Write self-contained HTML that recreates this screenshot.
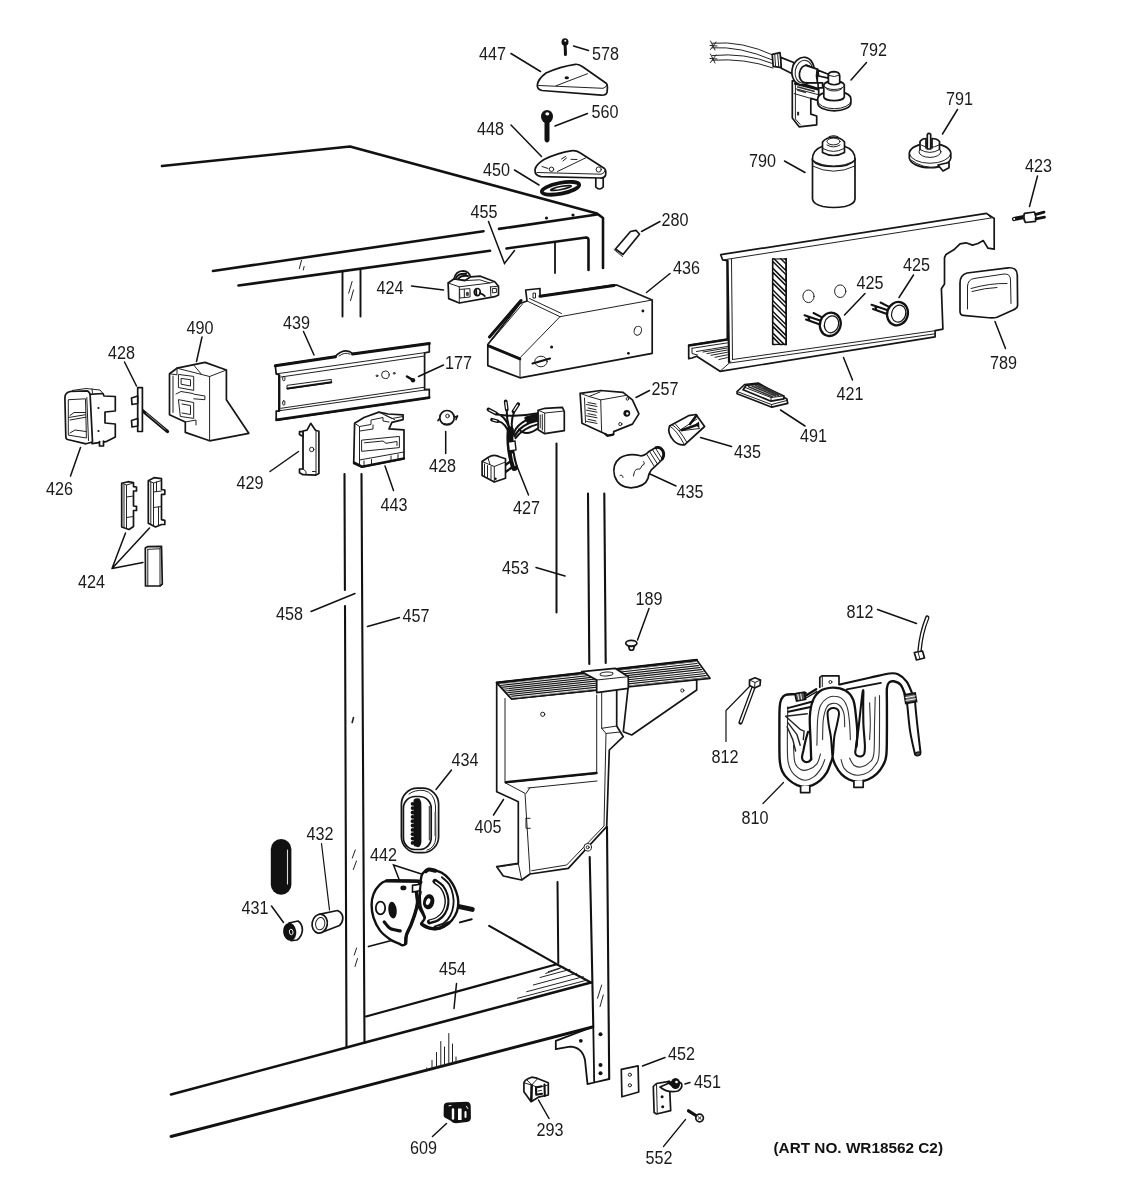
<!DOCTYPE html>
<html>
<head>
<meta charset="utf-8">
<title>Parts diagram WR18562 C2</title>
<style>
html,body{margin:0;padding:0;background:#fff;}
body{width:1125px;height:1200px;overflow:hidden;font-family:"Liberation Sans",sans-serif;}
svg{display:block;filter:grayscale(1);}
.cab{stroke:#111;stroke-width:2.6;fill:none;stroke-linecap:round;stroke-linejoin:round;}
.p{stroke:#151515;stroke-width:1.7;fill:none;stroke-linecap:round;stroke-linejoin:round;}
.pw{stroke:#151515;stroke-width:1.7;fill:#fff;stroke-linecap:round;stroke-linejoin:round;}
.t{stroke:#222;stroke-width:1;fill:none;stroke-linecap:round;stroke-linejoin:round;}
.tw{stroke:#222;stroke-width:1;fill:#fff;stroke-linecap:round;stroke-linejoin:round;}
.ld{stroke:#111;stroke-width:1.5;fill:none;stroke-linecap:round;}
.k{fill:#111;stroke:none;}
.lb text{font-family:"Liberation Sans",sans-serif;font-size:18px;fill:#1a1a1a;text-anchor:middle;}
.art{font-family:"Liberation Sans",sans-serif;font-weight:bold;font-size:14.6px;fill:#111;}
</style>
</head>
<body>
<svg width="1125" height="1200" viewBox="0 0 1125 1200">
<rect x="0" y="0" width="1125" height="1200" fill="#fff"/>

<!-- ===== CABINET ===== -->
<g id="cabinet" class="cab">
<!-- top face -->
<path d="M162 166 L350 146.5 L597 213.5 L603 218 L603 268"/>
<!-- front top edge -->
<path d="M213 271 L483.5 231.2 M499 228.9 L597 214.5"/>
<path d="M238.5 285.5 L490 250.8"/>
<path d="M506.5 248.5 L586 237.5 Q588.5 237.5 588.5 240 L588.5 270"/>
<path d="M555 243 L555 273" stroke-width="1.8"/>
<!-- top-left post stub -->
<path d="M342.5 272 L342.5 316.5 M360.5 270 L360.5 316.5" stroke-width="1.9"/>
<!-- left post 458/457 -->
<path d="M344.5 474 L344.9 590 M345 606 L346.5 1047" stroke-width="2.1"/>
<path d="M361.5 474 L364.5 1043" stroke-width="2.1"/>
<!-- 453 inner line -->
<path d="M556.5 443.5 L556.5 612.5" stroke-width="2"/>
<!-- right post upper -->
<path d="M588 493.5 L589.3 664" stroke-width="2.1"/>
<path d="M604.3 493.5 L605.7 663" stroke-width="2.1"/>
<!-- right post lower -->
<path d="M589.7 857 L590.8 905 L593.3 1027" stroke-width="2.1"/>
<path d="M607 827 L609.2 1079" stroke-width="2.1"/>
<path d="M557.5 882 L558.3 963" stroke-width="2"/>
<!-- bottom rail -->
<path d="M171 1094.5 L346.5 1047.5 L365 1042.5 L591 982.5"/>
<path d="M171 1136.5 L592.5 1027" stroke-width="2.9"/>
<path d="M366 1016.5 L556.7 964.2" stroke-width="2.2"/>
<!-- shelf -->
<path d="M489.2 925.8 L556.7 964.2 L591 982.5" stroke-width="2.1"/>
<path d="M368.5 946.5 L391.5 940.5" stroke-width="1.8"/>
<!-- bracket at bottom of right post -->
<path d="M592.5 1027 L555.8 1040.8 L555.8 1049.2 L570 1046.7 Q582 1047 585 1060 L587.5 1084.2 L594.2 1082.5 L609.2 1079 M593.3 1027 L594.2 1082.5" stroke-width="1.8"/>
</g>
<g class="k">
<circle cx="546.5" cy="218" r="1.6"/><circle cx="573" cy="215" r="1.6"/>
<circle cx="600.5" cy="1034.2" r="2"/><circle cx="600.5" cy="1065" r="2"/><circle cx="600.5" cy="1073.3" r="2"/>
<circle cx="580.8" cy="1040.8" r="1.9"/>
</g>

<!-- ===== PARTS: TOP ===== -->
<g id="p447">
<path class="pw" d="M537.3 85 Q538 79 546 73 Q560 66.5 575.5 64.3 Q579 64 583 67 L606.5 83.5 Q608 85.5 607 92.5 Q606 95.5 601 95.2 L542 90.5 Q537 89.5 537.3 85 Z"/>
<path class="t" d="M538.5 85.5 L603 88.3 Q606 88 607 84.5 M556 85.8 L587.5 73.7"/>
<ellipse class="k" cx="566.8" cy="77.8" rx="2.2" ry="1.5"/>
</g>
<g id="p578"><ellipse class="k" cx="565" cy="42" rx="3.5" ry="3.8"/><path d="M565 43 L565.4 51.5 L565.4 54.5" stroke="#111" stroke-width="3" stroke-linecap="round" fill="none"/><circle cx="565.3" cy="40.8" r="1" fill="#fff"/></g>
<g id="p560"><ellipse class="k" cx="547" cy="116.5" rx="6" ry="6.6"/><path d="M547 119 L547 133 L547 139.5" stroke="#111" stroke-width="5" stroke-linecap="round" fill="none"/><path d="M547 137 L547 141" stroke="#111" stroke-width="3" stroke-linecap="round"/><ellipse cx="547.3" cy="113.8" rx="2" ry="1.6" fill="#fff"/></g>
<g id="p450"><ellipse cx="560.5" cy="188.3" rx="19" ry="5.4" transform="rotate(-11 560.5 188.3)" fill="#fff" stroke="#111" stroke-width="3.8"/><ellipse cx="561" cy="188" rx="10.5" ry="1.5" transform="rotate(-11 561 188)" fill="#fff" stroke="#111" stroke-width="1.7"/></g>
<g id="p448">
<path class="pw" d="M595.8 176 L595.8 187 Q599.5 191 603.2 187 L603.2 176 Z"/>
<path class="pw" d="M535 169.5 Q536 164.5 544 159.5 Q558 152.5 572.5 150.6 Q576.5 150.4 580 152.8 L604.5 168.5 Q606.5 170.5 605.5 175.5 Q604 178.5 600 178 L541 176.7 Q534.5 175.5 535 169.5 Z"/>
<path class="t" d="M537 172.5 L601 174.2 Q604.5 173.5 605.3 170 M557.5 171.5 L586 157.7"/>
<circle class="t" cx="551.5" cy="169.3" r="2.2"/><circle class="t" cx="598.7" cy="169.5" r="2.6"/>
<path class="t" d="M561.5 159 L565.5 156.5 M563 161 L566.5 158 M571 159.3 L577 159.5 M542 166.5 L548 168.5" stroke-width="1.4"/>
</g>
<g id="p280">
<path class="pw" d="M615.5 249 L630.5 231.5 L636 230.3 L639.5 234.2 L623 254.5 Z" stroke-width="1.4"/>
<path class="t" d="M614 249.5 L622.5 256.5" stroke-width="1.6"/>
</g>

<g id="p792">
<path class="t" d="M712.5 43.2 Q742 40.5 774 55.5 M712.5 47.8 Q740 46 772.5 60 M712.5 55.5 Q745 52.5 772.5 63.5 M712.5 60.2 Q745 58 773 68" stroke-width="1.8"/>
<path class="t" d="M710.5 41 L715 50 M710.5 49.5 L716 42 M710 45.5 L717 46 M710.5 54 L715 63 M710.5 62.5 L716 55 M710 58.5 L717 59" stroke-width="1.3"/>
<path class="pw" d="M772.2 54.4 L780.0 52.7 L781.7 67.6 L773.2 66.4 Z" stroke-width="1.8"/>
<path class="t" d="M774.7 54.0 L775.6 66.8 M777.6 53.4 L778.8 67.3" stroke-width="1.4"/>
<path class="pw" d="M780.7 57.4 L793.7 62.5 L792.8 74.0 L781.3 68.3 Z" stroke-width="1.7"/>
<path class="pw" d="M792.3 80.8 L792.3 118.0 L799.1 126.8 L816.7 124.8 L816.7 116.0 L810.8 114.1 L810.8 98.4 L818.7 100.6 L818.7 88.7 L794.2 80.8 Z" stroke-width="2"/>
<path class="t" d="M795.4 84.8 L795.4 119.0 L800.1 124.4 M794.2 93.6 L810.8 98.4 M795.4 88.7 L817.7 94.5" stroke-width="1.4"/>
<path d="M794.2 83.3 L818.2 89.2" stroke="#111" stroke-width="2.6" fill="none"/>
<path d="M797.2 86.7 L814.8 91.4 M797.2 90.1 L806.0 92.6" stroke="#333" stroke-width="1.6" fill="none"/>
<rect x="797.1" y="111.8" width="2" height="3.6" fill="#222"/>
<ellipse class="pw" cx="803.0" cy="71.1" rx="11.0" ry="13.9" transform="rotate(10 803.0 71.1)" stroke-width="2.2" />
<ellipse class="t" cx="803.8" cy="71.8" rx="8.6" ry="11.5" transform="rotate(10 803.8 71.8)" stroke-width="1.2" />
<path class="pw" d="M806.0 65.4 L817.7 69.3 L817.2 82.3 L806.0 82.3 Z" stroke-width="1.6"/>
<ellipse class="pw" cx="806.0" cy="74.0" rx="6.6" ry="8.8" transform="rotate(8 806.0 74.0)" stroke-width="1.9" />
<path class="pw" d="M805.8 65.4 L817.2 69.3 Q815.7 76.0 817.5 82.8 L806.9 82.8" stroke-width="1.7"/>
<path class="pw" d="M817.7 70.1 L828.4 74.2 L828.4 78.1 L818.7 76.0 Z" stroke-width="1.6"/>
<path class="pw" d="M817.9 82.8 L822.6 82.8 L822.6 87.9 L818.3 87.9 Z" stroke-width="1.5"/>
<path class="pw" d="M817.7 103.0 L817.7 98.9 A16.6 7.8 0 0 1 850.9 98.9 L850.9 103.0 A16.6 7.8 0 0 1 817.7 103.0 Z" stroke-width="2"/>
<path class="t" d="M817.7 100.9 A16.6 7.8 0 0 0 850.9 100.9" stroke-width="1.5"/>
<path class="pw" d="M823.8 97.0 L823.8 84.8 A10.3 4.1 0 0 1 844.3 84.8 L844.3 97.0 A10.3 4.1 0 0 1 823.8 97.0 Z" stroke-width="1.8"/>
<path class="t" d="M823.8 85.8 A10.3 4.1 0 0 0 844.3 85.8 M825.3 87.3 A8.8 4.1 0 0 0 842.8 87.3" stroke-width="1.3"/>
<path class="pw" d="M828.4 74.2 Q829.4 71.6 834.3 71.6 Q839.7 71.8 839.7 76.0 L839.7 83.3 Q834.3 86.2 828.4 83.3 Z" stroke-width="1.8"/>
<path class="t" d="M828.9 75.5 Q834.3 77.9 839.5 75.2" stroke-width="1.2"/>
</g>

<g id="p790">
<path class="pw" d="M812.5 158.5 L812.5 199 Q813 204 823 206.5 Q833.5 208.5 845 206.5 Q855 204 855 199 L855 158.5 Z" stroke-width="1.7"/>
<path class="pw" d="M812.5 160 Q812 150 822 146.5 L845 146.5 Q855.5 150 855 160 Q850 166.5 833.5 166.5 Q817 166.5 812.5 160 Z" stroke-width="1.6"/>
<path d="M812.5 166 Q833.5 176.5 855 166" class="t" stroke-width="2.4"/>
<path class="t" d="M812.5 161 Q833.5 171.5 855 161" stroke-width="1.2"/>
<path class="pw" d="M822.5 152.5 L822.5 142 Q826 137.5 833.5 137 Q841 137.5 844.5 142 L844.5 152.5 Q833.5 158.5 822.5 152.5 Z" stroke-width="1.5"/>
<ellipse class="t" cx="833.5" cy="141.5" rx="6.5" ry="3.4" stroke-width="1.3"/>
<path class="t" d="M827 145 Q833.5 149 840 145 M823 148.5 Q833.5 154.5 844 148.5" stroke-width="1.1"/>
<path class="t" d="M829 136.5 Q833.5 134.5 838 136.5" stroke-width="1.3"/>
</g>

<g id="p791">
<path class="pw" d="M909.3 158 L909.3 153 A20.8 10.4 0 0 1 950.8 153 L950.8 158 A20.8 10.4 0 0 1 909.3 158 Z" stroke-width="1.7"/>
<path class="t" d="M909.3 153.6 A20.8 10.4 0 0 0 950.8 153.6" stroke-width="1.3"/>
<path d="M911 160 Q922 168.5 938 167.6" class="t" stroke-width="2.4"/>
<path class="pw" d="M938 165 L943 171 L949 167.8 L949 162.5 Z" stroke-width="1.3"/>
<ellipse class="t" cx="930" cy="151.8" rx="11" ry="5.6" stroke-width="1.3"/>
<path class="pw" d="M920 149.5 L920 141.5 Q922 138.5 926 138.5 L926 148 M932 148 L932 138.5 Q937 138.5 939.5 141.5 L939.5 149.5" stroke-width="1.4"/>
<path class="t" d="M920 149.5 Q930 155.5 939.5 149.5 M921 145 Q930 150 939 145" stroke-width="1.2"/>
<path class="pw" d="M927.3 149 L927.3 134.5 Q929 132.3 930.7 134.5 L930.7 149 Z" stroke-width="1.4"/>
</g>

<g id="p423">
<path d="M1014 219 L1025 216.7" stroke="#111" stroke-width="4.2" stroke-linecap="round" fill="none"/>
<circle cx="1014.2" cy="219" r="1" fill="#fff"/>
<path class="pw" d="M1024.5 213.3 L1034.5 212 Q1036.5 216.5 1035.5 221.3 L1025.5 222.5 Q1023 218 1024.5 213.3 Z" stroke-width="2"/>
<path d="M1024 214 Q1022.5 218 1024.5 222" class="t" stroke-width="2.8"/>
<path d="M1036 214.3 L1044 212.2 M1036 218.8 L1044.5 217.2" stroke="#111" stroke-width="2.8" stroke-linecap="round" fill="none"/>
</g>

<!-- ===== PANEL 421 ===== -->
<g id="p421">
<path class="pw" d="M720.7 254.7 L986.5 213.4 L994.2 218.5 L994.2 249.2 L988 248.2 L983.3 240.6 L978 243.5 L972.5 245.1 L966 242.8 L960 243.8 L953.8 249.8 L946 254.4 L944.5 257.6 L944.5 284 L941.4 288.7 L942.9 329.1 L935.1 330.7 L935.1 336.9 L720 371.3 L696.7 356.2 L692 358 L688.7 358.7 L688.7 345.3 L727.3 339.3 L727.3 260.7 L722.7 260 Z" stroke-width="1.9"/>
<path class="t" d="M692 348.3 L727.3 342.9 M692 348.3 L692 353.5 L697.5 355 M696.5 351.5 L727.3 346.5" stroke-width="1.3"/>
<path class="t" d="M703 352 L727.3 348 M707 353.6 L727.3 350 M711 355.3 L727.3 352.3 M715 357.3 L727.3 354.8 M719 359.5 L727.3 357.6" stroke-width="1.2"/>
<path d="M689 345.5 L727.3 339.5" stroke="#111" stroke-width="2.4" stroke-linecap="round"/>
<path class="t" d="M722.7 260 L991 218 M731.5 259.3 L732.5 359.5 M732.5 359.5 L935.1 330.7 M730 363 L935.1 333.8 M720 371.3 L731 361.5" stroke-width="1.3"/>
<path d="M727.5 260.7 L729 362" stroke="#111" stroke-width="2.2" stroke-linecap="round"/>
<path class="t" d="M986.5 213.4 L991 218" stroke-width="1.2"/>
<!-- hatched column -->
<clipPath id="hc"><rect x="771.7" y="258.2" width="15.3" height="87"/></clipPath>
<g clip-path="url(#hc)"><path d="M772.6 228.9 L786.1 242.4 L786.1 249.2 L772.6 235.7 Z M772.6 239.7 L786.1 253.2 L786.1 260.0 L772.6 246.5 Z M772.6 250.5 L786.1 264.0 L786.1 270.8 L772.6 257.3 Z M772.6 261.3 L786.1 274.8 L786.1 281.6 L772.6 268.1 Z M772.6 272.1 L786.1 285.6 L786.1 292.4 L772.6 278.9 Z M772.6 282.9 L786.1 296.4 L786.1 303.2 L772.6 289.7 Z M772.6 293.7 L786.1 307.2 L786.1 314.0 L772.6 300.5 Z M772.6 304.5 L786.1 318.0 L786.1 324.8 L772.6 311.3 Z M772.6 315.3 L786.1 328.8 L786.1 335.6 L772.6 322.1 Z M772.6 326.1 L786.1 339.6 L786.1 346.4 L772.6 332.9 Z M772.6 336.9 L786.1 350.4 L786.1 357.2 L772.6 343.7 Z" fill="#fff" stroke="#111" stroke-width="1.5" stroke-linejoin="miter"/><path d="M772.5 258 L772.5 345 M786.2 258 L786.2 345" stroke="#111" stroke-width="1.6" fill="none"/><path d="M772 258.9 L787 258.9 M772 344.5 L787 344.5" stroke="#111" stroke-width="1.4"/></g>
<ellipse class="t" cx="808.5" cy="296.3" rx="5.6" ry="6.3" stroke-width="1.3"/>
<ellipse class="t" cx="840.2" cy="291.2" rx="5.6" ry="6.3" stroke-width="1.3"/>
<!-- knobs 425 -->
<g id="k1">
<path d="M804.5 315.3 L823 321.5 M806 319.5 L822 325.3 M813.5 313 L824 318.3 M808 316.5 L809.5 320.5" stroke="#111" stroke-width="2" fill="none" stroke-linecap="round"/>
<ellipse cx="830.3" cy="324.3" rx="10.3" ry="11.8" transform="rotate(18 830.3 324.3)" fill="#fff" stroke="#111" stroke-width="2.3"/>
<ellipse cx="831.5" cy="324.3" rx="7" ry="8.6" transform="rotate(18 831.5 324.3)" fill="#fff" stroke="#111" stroke-width="1.2"/>
</g>
<g id="k2">
<path d="M871.5 304.8 L890 311 M873 309 L889 314.8 M880.5 302.5 L891 307.8 M875 306 L876.5 310" stroke="#111" stroke-width="2" fill="none" stroke-linecap="round"/>
<ellipse cx="897.5" cy="313.6" rx="10.3" ry="11.8" transform="rotate(18 897.5 313.6)" fill="#fff" stroke="#111" stroke-width="2.3"/>
<ellipse cx="898.7" cy="313.6" rx="7" ry="8.6" transform="rotate(18 898.7 313.6)" fill="#fff" stroke="#111" stroke-width="1.2"/>
</g>
</g>

<g id="p789">
<path class="pw" d="M960 283 Q960 275 967 273 L1008 267.8 Q1017 267 1017.3 275 L1017.6 305.5 Q1017 309 1012 310.5 L997 317.3 Q993 318.3 986 317.5 L963 315.3 Q960 315 960 311 Z" stroke-width="2"/>
<path class="t" d="M967.5 286 Q968 279.5 974 278.5 L1004 274 Q1010.5 273.5 1010.5 280 L1011 303.5 M967.5 286 L967.5 309 M971 288.5 Q990 283 1007 283.5 M972 291.5 Q985 288 997 287.5" stroke-width="1.2"/>
</g>

<!-- ===== 436 BOX ===== -->
<g id="p436">
<path class="pw" d="M487.8 344.5 L520 303.5 L527 301 L525.7 290 L540 288.5 L540 296 L613 285.2 L616.7 285 L652.2 300 L652.2 353.3 L520 377.8 L487.8 365.6 Z" stroke-width="2"/>
<path class="t" d="M520 357.8 L520 377.8 M487.8 344.5 L520 357.8 L560 316.7 L652.2 300 M527 301 L560 316.7 M529.5 298.5 L561.5 313.5" stroke-width="1.6"/>
<path d="M540 296.3 L614 285.5" stroke="#111" stroke-width="3" fill="none" stroke-linecap="round"/>
<path d="M489.5 337 L521 300.5" stroke="#111" stroke-width="3" fill="none" stroke-linecap="round"/>
<path class="t" d="M492 340 L522.5 304" stroke-width="1.1"/>
<path d="M488.5 346 L520 359" stroke="#111" stroke-width="2.6" fill="none" stroke-linecap="round"/>
<path class="t" d="M533 293.5 L533 298 L535.5 298 L535.5 293.5 Z" stroke-width="1"/>
<ellipse class="tw" cx="541" cy="361.5" rx="6.2" ry="5.3" stroke-width="1.7"/>
<path d="M532.5 363.5 L550 358.5" stroke="#111" stroke-width="2.2" stroke-linecap="round"/>
<ellipse class="t" cx="637.8" cy="330.7" rx="3.6" ry="4.6" transform="rotate(20 637.8 330.7)" stroke-width="1.3"/>
<circle class="k" cx="551.6" cy="347" r="1.5"/><circle class="k" cx="642.9" cy="311" r="1.4"/><circle class="k" cx="628.4" cy="353.3" r="1.4"/>
</g>

<g id="p424a">
<path class="pw" d="M454.0 279.0 Q455.6 271.2 463.0 270.9 Q469.2 271.2 470.5 277.1 L464.9 280.6 Z" stroke-width="2"/>
<path d="M456.2 277.4 Q458.7 273.1 466.1 273.7 M458.7 278.4 Q461.2 275.3 468.0 275.9" stroke="#111" stroke-width="2" fill="none" stroke-linecap="round"/>
<path class="pw" d="M448.1 283.0 L454.2 278.8 L464.9 280.6 L470.5 276.9 L480.4 276.2 L494.8 281.8 L498.5 286.2 L498.5 294.9 L494.8 296.7 L459.3 303.0 L448.7 298.6 Z" stroke-width="2.1"/>
<path class="t" d="M448.1 283.0 L459.3 286.8 L459.3 303.0 M459.3 286.8 L489.8 283.0 L494.1 281.7 M464.9 280.6 L479.8 279.8 L489.8 283.0" stroke-width="1.6"/>
<path class="t" d="M490.4 286.9 L498.4 286.2 M490.4 286.9 L490.9 296.1" stroke-width="1.6"/>
<path class="t" d="M492.6 288.6 L496.3 288.3 L496.5 292.4 L492.8 292.8 Z" stroke-width="1.3"/>
<path class="t" d="M459.9 289.4 L469.9 288.6 L470.1 297.0 L460.2 298.0 Z M464.3 289.3 L464.4 297.5" stroke-width="1.5"/>
<ellipse cx="467.4" cy="293.9" rx="1.6" ry="2.2" fill="#444"/>
<ellipse cx="477.3" cy="292.1" rx="3" ry="3.6" fill="#fff" stroke="#111" stroke-width="1.7"/>
<path d="M476.1 289.9 L476.4 294.9 M479.8 293.0 L483.6 294.9 L484.8 296.1" stroke="#111" stroke-width="1.8" fill="none" stroke-linecap="round"/>
</g>

<!-- ===== PARTS: MIDDLE ===== -->
<g id="p426">
<path class="pw" d="M89.2 394.3 L103 393.5 L104 396 L115.3 396.5 L115.3 411 L105 412 L105 423 L115.3 424 L115.3 437 L106 441.7 L92 443.6 Z" stroke-width="1.7"/>
<path class="pw" d="M99.5 441.5 L99.5 446 L103.5 446 L103.5 441" stroke-width="1.3"/>
<path class="pw" d="M64.9 397.5 Q65 392.5 70.5 391.5 L87 390.8 Q90 391.5 90.2 396 L92.5 442 L86 443.8 L67.5 439.5 Q65.8 439 65.8 436 Z" stroke-width="2.2"/>
<path class="t" d="M68.7 399.7 L85.5 398.8 L86.4 438 L68.7 435.2 Z M68.7 417.5 L85.5 414.7 M70 420 L85.8 417.2 M86.8 397.5 L88.5 440.5 M70 433 L75 430 L86 431.5 M70 415.5 L74 412.5 L85.5 412.5" stroke-width="1.2"/>
<path class="t" d="M72 390.5 L86 388.5 L100 390 L103 393.5 M92 388.8 L92.5 393" stroke-width="1.3"/>
<circle class="k" cx="98.5" cy="408" r="1.1"/><circle class="k" cx="98.5" cy="431" r="1.1"/>
</g>
<g id="p428a">
<path d="M140.5 409 L167.5 431.5" stroke="#111" stroke-width="3.4" stroke-linecap="round"/>
<path d="M146 413 L165.5 429.5" stroke="#aaa" stroke-width="0.8"/>
<path class="pw" d="M137.7 387.6 L142.4 387.6 L142.4 431.5 L137.7 431.5 Z" stroke-width="1.5"/>
<path class="pw" d="M131.5 398 L137.7 396 L137.7 403.5 L132 404.5 Z M131.5 420.5 L137.7 418.5 L137.7 426 L132 427 Z" stroke-width="1.5"/>
</g>
<g id="p490">
<path class="pw" d="M169.5 373.8 L177 368.2 L205 362.4 L226.4 370 L226.4 399.7 L248.8 433.3 L209.6 440.8 L185.3 432.4 L185.3 422 L169.5 414.7 Z" stroke-width="1.8"/>
<path class="t" d="M177 368.2 L209.6 376.5 L226.4 370 M209.6 376.5 L209.6 440.8 M193.5 364.8 L201.5 374.4 M169.5 373.8 L177 374.8 L177 368.2" stroke-width="1.4"/>
<path class="t" d="M178.8 374.5 L193.7 376.4 L193.7 390.4 L178.8 387.6 Z M181.5 378.5 L190.5 379.7 L190.5 386 L181.5 384.3 Z M178.8 399.7 L193.7 402.5 L193.7 418.4 L180.7 416.5 Z M182 404 L190.5 405.5 L190.5 414.5 L182 413" stroke-width="1.4"/>
<path class="t" d="M193.7 394.1 L204.9 396 L204.9 399.7 L193.7 398.8 M173 376 L173 412.5 M176 394 L181 391.5 L193 393.5 M185.3 422 L196 420 L196 425" stroke-width="1.3"/>
</g>
<g id="p439">
<path class="pw" d="M275.3 365.7 L335 356.6 Q345 347 353 353.8 L429.3 343.4 L429.3 352 L424.6 352.8 L424.6 389.7 L429.3 389.4 L429.3 398.1 L276.2 420.5 L276.2 411.2 L279 411.2 L279 374.8 L276.2 373.9 Z" stroke-width="1.6"/>
<path d="M275.3 365.7 L335.5 356.8 M352.5 354 L429.3 343.4" stroke="#111" stroke-width="3" stroke-linecap="round"/>
<path class="t" d="M276.2 373.9 L429.3 352 M276.2 411.2 L429.3 389.4 M281 377 L424.6 356 M281 408.3 L424.6 387.2 M339 356 Q345 351.5 350 354.2" stroke-width="1.3"/>
<path d="M276.5 419.7 L429.3 397.4" stroke="#111" stroke-width="2.4" stroke-linecap="round"/>
<path d="M279.3 374.8 L279.3 411.2" stroke="#111" stroke-width="2.2"/>
<path class="tw" d="M287.4 385.3 L331.3 379.4 L331.3 382.7 L287.4 388.9 Z" stroke-width="1.2"/>
<path d="M287.6 388.5 L331.3 382.3" stroke="#111" stroke-width="2" stroke-linecap="round"/>
<rect class="t" x="282.7" y="376.5" width="2.2" height="4.2" rx="1" stroke-width="1"/><rect class="t" x="282.7" y="400.8" width="2.2" height="4.2" rx="1" stroke-width="1"/>
<circle class="t" cx="385.4" cy="374.8" r="3.8" stroke-width="1.3"/><circle class="t" cx="377" cy="375.8" r="0.9" stroke-width="0.9"/><circle class="t" cx="394.2" cy="373.3" r="0.9" stroke-width="0.9"/>
<path d="M407 376.5 L412 379.5" stroke="#111" stroke-width="2.6" stroke-linecap="round"/><circle class="k" cx="413" cy="380.3" r="2.2"/>
</g>
<g id="p429">
<path class="pw" d="M303 435.5 L303 431 L307 430.2 L310.7 423.3 L315.5 430.2 L318.9 431.2 L318.9 473.6 L315.5 475.2 L303 474.7 L299.5 472.7 L299.5 469 L303 469 Z" stroke-width="1.7"/>
<path class="pw" d="M299.5 431.7 L303 431.5 L303 436.5 L299.5 434.5 Z" stroke-width="1.4"/>
<path class="t" d="M303 436 L303 469 M316 431 L316 474.5 M303 469 L306 471.5 L306 474.5 M312.5 471.5 L315.5 471.5" stroke-width="1.2"/>
<circle class="t" cx="311.7" cy="449.5" r="2.2" stroke-width="1.2"/>
</g>
<g id="p443">
<path class="pw" d="M354.6 423.3 L364 417.5 L378.9 412.1 L388 414 L403.1 414.9 L403.1 419.6 L391.9 422.4 L389 428.9 L404 429.9 L404 458.8 L362 467.2 L353.7 463.5 Z" stroke-width="1.8"/>
<path class="t" d="M354.6 423.3 L359.5 426.5 L359.5 464.8 M359.5 426.5 L371 424.5 L371 420 L383 417.5 L383 421 L389 422 M360 431 L373 429 L373 425 M378.9 412.1 L392 418.5 L403 416.5 M385 415 L394.5 419.5" stroke-width="1.3"/>
<path class="t" d="M362 440.1 L399.4 436.4 L399.4 447.6 L362 451.3 Z M364.5 442.8 L383 441 L386 443.3 L397 441.5 L397 445.5 M359.5 460 L404 452 M364 461 L364 465.5 M371.5 459.5 L371.5 464 M391 456 L391 460.3 M398 454.5 L398 459" stroke-width="1.3"/>
<path d="M354.5 462.8 L362 466.6 L404 458.4" stroke="#111" stroke-width="2.4" fill="none" stroke-linecap="round" stroke-linejoin="round"/>
</g>
<g id="p428b">
<path class="pw" d="M438 420.5 L440 418 M454 417.5 L457.5 416 L456 419.5" stroke-width="1.5"/>
<circle class="pw" cx="447" cy="417.7" r="7.2" stroke-width="1.8"/>
<path d="M440.5 421.5 Q447 427 453.5 421" class="t" stroke-width="2"/>
<circle class="t" cx="447.5" cy="416" r="1.8" stroke-width="1.1"/>
</g>
<g id="p427">
<path d="M496.1 413.3 Q507.3 416.7 510.1 432.5 M506.8 409.8 Q506.4 422.3 511.4 432.5 M514.1 411.8 Q510.1 422.3 512.9 432.5 M498.0 421.1 Q506.4 423.2 509.6 435.3 M497.1 414.4 Q516.7 417.6 538.1 413.3" stroke="#111" stroke-width="2" fill="none" stroke-linecap="round"/>
<path d="M513.3 434.4 Q517.6 420.4 538.1 416.7 M514.4 436.3 Q520.4 424.1 538.1 420.4 M515.5 438.1 Q523.2 427.9 538.1 424.1 M518.9 429.4 Q526.0 437.2 538.1 428.2" stroke="#111" stroke-width="2" fill="none" stroke-linecap="round"/>
<path d="M526.0 418.2 L538.1 414.8 M527.9 421.3 L538.1 418.9" stroke="#111" stroke-width="3.4" fill="none" stroke-linecap="round"/>
<path d="M488.5 409.5 L496 413.5" stroke="#111" stroke-width="3.8" stroke-linecap="round"/><path d="M489.3 410 L495.2 413" stroke="#fff" stroke-width="1.3" stroke-linecap="round"/>
<path d="M505.7 401.5 L506.8 409.5" stroke="#111" stroke-width="3.8" stroke-linecap="round"/><path d="M505.9 402.5 L506.6 408.5" stroke="#fff" stroke-width="1.3" stroke-linecap="round"/>
<path d="M518.2 404.2 L513.5 411.5" stroke="#111" stroke-width="3.8" stroke-linecap="round"/><path d="M517.6 405.2 L514.1 410.5" stroke="#fff" stroke-width="1.3" stroke-linecap="round"/>
<path d="M492 419.7 L497.5 421.2" stroke="#111" stroke-width="3.6" stroke-linecap="round"/><path d="M493 420 L496.7 421" stroke="#fff" stroke-width="1.2" stroke-linecap="round"/>
<path d="M510.3 430 Q508.5 447 514.5 467.5" stroke="#111" stroke-width="7" fill="none" stroke-linecap="round"/>
<path d="M508.2 442 L515 441 L516 450 L509.2 451 Z" fill="#fff" stroke="#111" stroke-width="1.4"/>
<path d="M512.3 453.5 Q513 460 515.2 466" stroke="#fff" stroke-width="1" fill="none"/>
<path class="pw" d="M538.1 410.3 L545 408.3 L562.4 407.3 L564.3 411.5 L564.3 430.7 L544.7 433.7 L538.1 429.7 Z" stroke-width="2"/>
<path class="t" d="M538.1 410.3 L544.7 413 L544.7 433.7 M544.7 413 L564.3 411" stroke-width="1.6"/>
<path class="t" d="M540.2 415 L540.2 428 M542.3 414.5 L542.3 430" stroke-width="1.1"/>
<path class="pw" d="M482.1 461.5 L488 457.5 Q494 453.5 500 457 L505.5 458.7 L505.5 478.3 L494.3 482 L482.1 475.5 Z" stroke-width="2"/>
<path class="t" d="M482.1 461.5 L494.3 466.5 L494.3 482 M494.3 466.5 L505.5 462 M488 457.8 L490 464.5 M484.5 464 L484.5 475.5 M487.5 465.5 L487.5 477.5 M491 466.5 L491 479" stroke-width="1.3"/>
<path d="M505.5 465 L511 461 M505.5 472 L512.5 467" stroke="#111" stroke-width="2.2" fill="none"/>
<circle class="k" cx="495.5" cy="478.8" r="1.2"/>
</g>
<g id="p257">
<path class="pw" d="M580.1 393.3 L600.7 390.5 L623.1 392.4 L632.4 399.9 L638.9 413.9 L632.4 424.1 L613.7 431.6 L613.7 434.4 L607.2 435.5 L604.4 433.5 L582 423.2 Z" stroke-width="1.9"/>
<path class="t" d="M580.1 393.3 L589 396.5 L600.7 399.9 L625.5 395.5 M600.7 399.9 L601.6 431.5 M589 396.5 L600 392 M584.5 398 L585.5 422.5 M586.5 404.5 L597 406.5 M586.5 410.2 L597 412.2 M586.5 415.8 L597 417.8 M586.5 421.4 L597 423.4 M588 402.5 L596 404 M588 408 L596 409.7 M588 413.7 L596 415.3 M588 419.3 L596 421" stroke-width="1.3"/>
<circle class="k" cx="626.8" cy="413.3" r="3.4"/><circle cx="627.3" cy="413.5" r="1.2" fill="#fff"/>
<circle class="t" cx="620.3" cy="424.1" r="1.6" stroke-width="1"/><circle class="t" cx="627.4" cy="398.9" r="1.3" stroke-width="1"/>
<path d="M605 433.5 L607.5 435.8 L613.5 434.6" stroke="#111" stroke-width="2.2" fill="none"/>
</g>
<g id="p435s">
<path class="pw" d="M669.5 426 L688.5 415.7 L696 414.5 L704.6 426.5 L684.5 444.8 Q678 445.5 673.5 440.5 Q667 433 669.5 426 Z" stroke-width="2"/>
<path class="t" d="M669.5 426 Q676 429 684.5 444.8 M672 424.7 Q679 428.5 687 442.5 M679.5 430.5 L697 419 M681 430.8 L699.5 428.5 M675 423.5 L681 430.5" stroke-width="1.3"/>
<path d="M690 424 L696.5 415.5 M682 430.2 L698 424.5" stroke="#111" stroke-width="2.4" stroke-linecap="round"/>
<path class="k" d="M695 424.5 L699 421.5 L699.5 428.5 Z"/>
</g>
<g id="p435b">
<path class="pw" d="M648.5 451.8 L655 448 Q659 446.3 662 449.5 Q665.3 454 662.5 459 L660.3 461.5 L651.1 470.2 Q648.5 473.5 648 478.4 Q645 487 631 487.8 Q618.5 487.5 614.6 476 Q611.5 464.5 620 458 Q628.5 452.5 640.5 455.8 Q644.5 455.8 648.5 451.8 Z" stroke-width="2.1"/>
<path class="t" d="M646.5 453.8 L654.5 466.8 M649.5 451.5 L657.5 464 M652.5 449.8 L660.2 461.5 M655.5 448.2 L662.3 459" stroke-width="1.5"/>
<path d="M656 447.6 Q660.5 446.5 663 451 Q664.8 455 662.3 459" stroke="#111" stroke-width="2.8" fill="none" stroke-linecap="round"/>
<path class="t" d="M633.5 476 L634.5 471.5 Q636 468.5 638.5 469 Q640 470 641 467.5 Q641.5 465 644 464.5 Q645 463 643.5 461.5" stroke-width="1.6"/>
<path class="t" d="M620 475.5 Q622.5 474 623 477.5" stroke-width="1.3"/>
</g>
<g id="p491">
<path class="pw" d="M737.1 391.5 L744.6 384.5 L758.2 383 L786.9 398.9 L787.7 403.4 L771.8 407.2 L737.1 393.8 Z" stroke-width="1.8"/>
<path class="t" d="M737.1 391.5 L771.5 404.5 L786.9 400.5 M771.5 404.5 L771.8 407.2" stroke-width="1.2"/>
<path class="pw" d="M743.1 389.8 L746.1 385.3 L758.2 384.2 L783.9 395.9 L783.9 398.9 L771 401.2 Z" stroke-width="1.4"/>
<path class="t" d="M771 401.2 L771 397.5 L783.9 395.9 M771 397.5 L745 387.5" stroke-width="1.1"/>
<path d="M748 386.5 L773 397 M751.5 385.8 L776 396.3 M755 385.3 L779 395.8 M758 384.8 L782 395.6" stroke="#333" stroke-width="1.5" fill="none"/>
</g>
<g id="p424b">
<path class="pw" d="M121.7 483.3 L128 481.7 L133.5 482.5 L133.5 486.7 L136.5 487 L136.5 491 L133.5 491 L133.5 506 L136.5 506.3 L136.5 510.5 L133.5 510.5 L133.5 526.5 L129 529.5 L121.7 527 Z" stroke-width="1.7"/>
<path class="t" d="M121.7 483.3 L126.5 485 L126.5 528.5 M126.5 485 L133.5 483 M126.5 497 L133.5 496 M126.5 517.5 L133.5 516.5 M124 485 L124 527" stroke-width="1.2"/>
<path class="pw" d="M148.3 480.7 L154 477.7 L161.5 478.7 L161.5 489.5 L164.8 490 L164.8 494.3 L161.5 494.3 L161.5 519.7 L164.8 520.3 L164.8 524.5 L161.5 524.5 L155.5 527 L148.3 523.3 Z" stroke-width="1.7"/>
<path class="t" d="M148.3 480.7 L153.5 483 L153.5 526 M153.5 483 L161.5 480.5 M150.8 482 L150.8 524.5 M153.5 492 L161.5 491 M153.5 507.5 L161.5 506.5 M156.5 482 L156.5 491.5 M158.5 507 L158.5 525" stroke-width="1.2"/>
<path class="pw" d="M145.3 548 L147.5 546.7 L161.5 546.3 L162.3 584 L160 586 L145.5 586 Z" stroke-width="1.5"/>
<path class="t" d="M147.8 549.3 L160 548.8 L160 586 M147.8 549.3 L147.8 586 M160 548.8 L161.5 546.3" stroke-width="1.1"/>
</g>

<!-- ===== PARTS: LOWER ===== -->
<g id="p189">
<path class="pw" d="M628.5 645.5 L629.5 649.5 Q631.5 651 633.5 649.5 L634.5 645.5 Z" stroke-width="1.3"/>
<ellipse class="pw" cx="631.3" cy="643.3" rx="5.6" ry="3" stroke-width="1.5"/>
<path class="t" d="M626.5 644.5 Q631 647.5 636 644.5" stroke-width="1.6"/>
</g>
<g id="p405">
<!-- bracket triangle -->
<path class="pw" d="M628.3 686 L696.7 679.5 L696.7 690 L631.7 735 L623.3 731.7 Z" stroke-width="1.6"/>
<circle class="t" cx="682.3" cy="690.5" r="1.6" stroke-width="1.1"/>
<!-- body -->
<path class="pw" d="M496.7 682.7 L496.7 791.7 L518.3 801.7 L518.3 863.3 L496.7 866.7 L503.3 876 L521.7 880 L530 874 L568.3 868.3 L606.7 826.7 L609.3 750 L623.3 736.7 L616.7 726 L616.7 688 L511.7 699 Z" stroke-width="1.9"/>
<path class="t" d="M505 698.5 L505 782.7 L525 793.3 L530 873.3 M596.7 695 L596.7 773.5 M505 782.7 L596.7 773.5 M528 788 L597 781 M526 793.5 L530 787.5 M601.7 692.5 L601.7 728.3 L616.7 726 M601.7 728.3 L606 733.5 L604 826 L566.7 865 L531.7 870.7 M606 733.5 L620 732 M518.3 863.3 L521.7 880 M498 867 L518.5 864" stroke-width="1.4"/>
<path d="M506 782.2 L596.5 773" stroke="#111" stroke-width="2.4" stroke-linecap="round"/>
<path class="t" d="M526 818.3 L530 818.3 M526 818.3 L526 828.3 L530.3 828.3" stroke-width="1.3"/>
<circle class="t" cx="542.7" cy="714.3" r="2.1" stroke-width="1.4"/>
<circle class="tw" cx="587.7" cy="847.3" r="3.8" stroke-width="1.5"/><circle class="t" cx="587.7" cy="847.3" r="1.5" stroke-width="1"/>
<!-- grille -->
<path class="pw" d="M496.7 682.7 L696.7 660 L710 678.3 L511.7 699 Z" stroke-width="1.9"/>
<clipPath id="gc"><path d="M498.5 684 L696 661.5 L708 677.5 L512.5 697.7 Z"/></clipPath>
<g clip-path="url(#gc)" stroke="#1a1a1a" stroke-width="1.15" fill="none">
<path d="M495.7 684.0 L699.6 661.0 M497.4 685.8 L701.1 663.0 M499.0 687.6 L702.5 665.1 M500.7 689.5 L704.0 667.1 M502.4 691.3 L705.5 669.1 M504.0 693.1 L707.0 671.2 M505.7 694.9 L708.5 673.2 M507.4 696.7 L709.9 675.2 M509.0 698.5 L711.4 677.3"/>
</g>
<path d="M497 682.7 L696.7 660" stroke="#111" stroke-width="2.6" stroke-linecap="round"/>
<!-- clip -->
<path class="pw" d="M581.7 671.7 L615 668.3 L628.3 676.7 L628.3 688.3 L596.7 692.7 L596.7 680 Z" stroke-width="1.9"/>
<path class="t" d="M596.7 680 L628.3 676.7" stroke-width="1.5"/>
<ellipse class="t" cx="606.5" cy="674" rx="6.5" ry="1.9" transform="rotate(-5 606.5 674)" stroke-width="1.3"/>
</g>

<g id="oval"><rect x="270.8" y="839" width="20.6" height="55.8" rx="10.3" fill="#111"/><path d="M287.5 850 L287.5 884" stroke="#fff" stroke-width="1.1" stroke-linecap="round" opacity=".85"/></g>
<g id="p431">
<path class="pw" d="M289 923 L298 921 Q302.5 924 302.4 930 Q302 936.5 297 940 L291 940.7 Z" stroke-width="1.8"/>
<ellipse cx="289.7" cy="931.8" rx="6.6" ry="9" transform="rotate(-8 289.7 931.8)" fill="#111"/>
<ellipse cx="291.2" cy="932" rx="1.8" ry="2.8" transform="rotate(-8 291.2 932)" fill="none" stroke="#fff" stroke-width="0.9"/>
</g>
<g id="p432">
<path class="pw" d="M319 914.3 L337.5 910.5 Q343 913 342.8 918.5 Q342.5 923 339.5 925.5 L324 931.5 Z" stroke-width="1.6"/>
<ellipse class="pw" cx="319.7" cy="923.7" rx="7.6" ry="9.5" transform="rotate(10 319.7 923.7)" stroke-width="2.3"/>
<ellipse class="t" cx="320.2" cy="923.7" rx="4.6" ry="6.2" transform="rotate(10 320.2 923.7)" stroke-width="1.5"/>
</g>
<g id="p434">
<rect class="pw" x="401.4" y="788.2" width="37.2" height="64.5" rx="16" stroke-width="2.6"/>
<path class="t" d="M409 794 Q415 789.5 424 790.5 Q434.5 792.5 435.5 806 L435.8 838 Q435 848 427 850.2" stroke-width="1.3"/>
<rect class="pw" x="403.4" y="796.5" width="27.8" height="53" rx="11.8" stroke-width="2.6"/>
<path d="M413.5 801 Q413.5 798.5 417 798.3 L419.5 798.6 Q421.5 801 421.4 806 L421.4 842 Q421 846.5 418 847.3 L414 846 Q413.4 845 413.5 843 Z" fill="#111"/>
<g fill="#111"><circle cx="412.6" cy="803.8" r="1.9"/><circle cx="412.6" cy="808.1" r="1.9"/><circle cx="412.6" cy="812.5" r="1.9"/><circle cx="412.6" cy="816.8" r="1.9"/><circle cx="412.6" cy="821.2" r="1.9"/><circle cx="412.6" cy="825.5" r="1.9"/><circle cx="412.6" cy="829.9" r="1.9"/><circle cx="412.6" cy="834.2" r="1.9"/><circle cx="412.6" cy="838.6" r="1.9"/><circle cx="412.6" cy="842.9" r="1.9"/></g>
<path class="t" d="M429.3 806.5 L429.3 840" stroke-width="1.2"/>
<path d="M435.3 812 L435.3 836" stroke="#555" stroke-width="1.6"/>
</g>
<g id="p442">
<path d="M455.7 905.9 L472.2 909.4" stroke="#111" stroke-width="5" stroke-linecap="round"/>
<path d="M459.9 922.4 L471.7 919.2" stroke="#111" stroke-width="2" stroke-linecap="round"/>
<path d="M421.5 876.0 C422.3 872.6 423.5 872.8 424.7 871.7 C426.0 870.6 427.4 869.7 429.0 869.4 C430.6 869.1 432.2 869.6 434.3 870.1 C436.5 870.7 439.3 871.3 441.8 872.8 C444.3 874.3 447.1 876.7 449.3 879.2 C451.4 881.7 453.2 884.7 454.6 887.7 C456.0 890.8 457.2 894.1 457.8 897.3 C458.4 900.5 458.5 903.9 458.0 906.9 C457.6 910.0 456.7 912.7 455.1 915.5 C453.6 918.2 451.5 921.2 448.7 923.5 C446.0 925.7 441.9 928.0 438.6 928.8 C435.3 929.6 431.8 929.1 429.0 928.3 C426.2 927.5 422.2 925.8 421.5 924.0 C420.8 922.2 424.9 920.6 424.7 917.6 C424.6 914.6 421.3 910.1 420.5 905.9 C419.7 901.6 419.8 897.0 419.9 892.0 C420.1 887.0 420.7 879.4 421.5 876.0 Z" fill="#fff" stroke="#111" stroke-width="2.4" stroke-linejoin="round"/>
<path d="M425.8 871.2 C426.3 870.9 427.4 869.7 429.0 869.6 C430.6 869.5 434.3 870.5 435.4 870.7" stroke="#111" stroke-width="4" fill="none" stroke-linecap="round"/>
<path d="M434.9 881.3 C436.0 882.2 439.9 884.4 441.8 886.7 C443.7 889.0 445.2 892.4 446.1 895.2 C446.9 898.0 447.3 900.8 446.9 903.7 C446.6 906.7 445.5 910.2 443.9 912.8 C442.4 915.4 439.9 917.7 437.5 919.2 C435.1 920.7 430.9 921.4 429.5 921.9" stroke="#111" stroke-width="5" fill="none" stroke-linecap="round"/>
<path d="M435.6 882.2 C436.7 883.1 440.3 885.3 442.0 887.5 C443.7 889.8 445.1 893.0 445.9 895.7 C446.6 898.4 446.9 901.0 446.5 903.7 C446.1 906.5 445.1 909.8 443.6 912.3 C442.1 914.7 439.8 916.9 437.5 918.3 C435.3 919.8 431.5 920.6 430.3 921.0" stroke="#fff" stroke-width="1.4" fill="none" stroke-linecap="round"/>
<path d="M441.8 877.1 C443.0 878.3 447.4 881.5 449.3 884.5 C451.1 887.6 452.3 891.6 453.0 895.2 C453.7 898.8 453.8 902.5 453.3 905.9 C452.9 909.2 451.9 912.6 450.3 915.5 C448.8 918.3 446.6 921.1 443.9 922.9 C441.3 924.8 435.9 926.0 434.3 926.7" stroke="#111" stroke-width="1.8" fill="none" stroke-linecap="round"/>
<path d="M421.5 924.0 C422.8 924.6 426.2 927.0 429.0 927.7 C431.8 928.4 435.4 929.1 438.6 928.3 C441.8 927.5 446.6 923.8 448.2 922.9" stroke="#111" stroke-width="3.2" fill="none" stroke-linecap="round"/>
<ellipse cx="428.7" cy="901.8" rx="5.6" ry="7.6" transform="rotate(12 428.7 901.8)" fill="#111"/>
<ellipse cx="428.1" cy="901.8" rx="2" ry="3.4" transform="rotate(20 428.7 901.8)" fill="#fff"/>
<path d="M420.5 892.0 C420.1 894.1 418.0 901.2 418.3 904.8 C418.7 908.4 421.5 911.2 422.6 913.3 C423.7 915.5 424.4 916.9 424.7 917.6" stroke="#111" stroke-width="2.6" fill="none" stroke-linecap="round"/>
<path d="M386.3 880.8 C382.2 881.7 381.0 883.4 378.9 885.6 C376.7 887.8 374.7 890.9 373.5 894.1 C372.3 897.3 371.6 900.9 371.6 904.8 C371.6 908.7 372.1 913.3 373.5 917.6 C374.9 921.9 377.3 926.8 379.9 930.4 C382.6 934.0 386.3 936.7 389.5 938.9 C392.7 941.2 397.0 942.7 399.1 943.7 C401.3 944.8 401.4 945.4 402.5 945.3 C403.6 945.3 405.1 945.1 405.7 943.4 C406.4 941.7 405.5 938.3 406.4 935.2 C407.2 932.1 409.4 928.7 410.9 925.1 C412.3 921.4 414.1 917.1 415.1 913.3 C416.2 909.6 417.1 906.2 417.3 902.7 C417.5 899.1 416.2 894.9 416.4 892.0 C416.6 889.1 417.7 886.8 418.3 885.1 C419.0 883.3 423.0 882.1 420.5 881.3 C418.0 880.6 409.1 880.6 403.4 880.5 C397.7 880.4 390.4 879.9 386.3 880.8 Z" fill="#fff" stroke="#111" stroke-width="2.4" stroke-linejoin="round"/>
<path d="M386.3 880.8 L420.5 881.3" stroke="#111" stroke-width="3.2" stroke-linecap="round"/>
<path d="M416.4 892.0 C416.6 893.8 417.7 899.1 417.5 902.7 C417.3 906.2 416.2 909.6 415.1 913.3 C414.0 917.1 412.3 921.4 410.9 925.1 C409.4 928.7 407.2 932.1 406.4 935.2 C405.5 938.3 405.9 942.0 405.7 943.4" stroke="#111" stroke-width="3.4" fill="none" stroke-linecap="round"/>
<path d="M412.5 885.4 L420.5 884.1 L419.4 890.9 L412.5 892.0 Z" fill="#fff" stroke="#111" stroke-width="1.6"/>
<ellipse cx="403.4" cy="887.9" rx="3" ry="2.4" fill="#111"/>
<ellipse cx="380.5" cy="908.0" rx="4.7" ry="6.3" fill="none" stroke="#111" stroke-width="1.8"/>
<ellipse cx="392.5" cy="910.1" rx="4.2" ry="8.4" transform="rotate(-6 392.5 910.1)" fill="#111"/>
<path d="M384.2 921.9 C385.2 922.9 387.4 926.8 390.1 928.3 C392.7 929.8 398.5 930.5 400.2 930.9" stroke="#111" stroke-width="3.2" fill="none" stroke-linecap="round"/>
</g>
<!-- scratches -->
<g class="t" stroke-width="1.2">
<path d="M352.3 858 L355.3 850 M353.3 869.5 L356.5 861"/>
<path d="M352.2 722.5 L353.5 717.5" stroke-width="1.6"/>
<path d="M354.3 955 L356.6 948 M355 966.5 L357.5 958.5"/>
<path d="M597.5 998.3 L601.7 985 M600 1006.7 L603.3 995"/>
<path d="M299.3 268.7 L301.5 260.3 M303.3 270 L304.1 266.5"/>
<path d="M348.7 293.2 L352.1 281.5 M350.5 300.7 L353.5 290"/>
</g>
<!-- rail reflection hatch -->
<g class="t" stroke-width="1.1">
<path d="M426.7 1071 L426.7 1068 M432 1069.8 L432 1060.5 M436.5 1068.6 L436.5 1052.5 M440.8 1067.5 L440.8 1041.5 M444.5 1066.5 L444.5 1047 M448.8 1065.4 L448.8 1033.5 M452.5 1064.4 L452.5 1044 M456 1063.5 L456 1057"/>
</g>
<!-- shelf hatch -->
<g class="t" stroke-width="1.3">
<path d="M548.3 971.7 L563.3 966.9 M545.8 973.4 L560 968.4 M540 977.5 L570 969.4 M533.3 985 L576.7 973.3 M526.7 991.7 L583.3 976.7 M517.5 998.3 L586.7 980.2"/>
</g>

<g id="p609">
<path d="M444.5 1106 Q444.5 1103.3 448 1103.2 L466.5 1102.4 Q470 1102.6 470 1106 L470.2 1118 Q470 1121 467 1121.3 L456 1122.6 Q453 1122.6 451.5 1120.5 L445 1117 Q444.3 1116.5 444.3 1115 Z" fill="#111" stroke="#111" stroke-width="1.4" stroke-linejoin="round"/>
<path d="M453 1109.5 L453 1118.5" stroke="#fff" stroke-width="2.4" stroke-linecap="round"/>
<path d="M459.8 1108.5 L459.8 1120" stroke="#fff" stroke-width="3.6" stroke-linecap="butt"/>
<path d="M465.5 1112 L465.5 1117" stroke="#fff" stroke-width="2" stroke-linecap="round"/>
<path d="M449 1105.8 L451 1105.6 M466.5 1106.3 L467.8 1108.5" stroke="#fff" stroke-width="1" stroke-linecap="round"/>
</g>
<g id="p293">
<path class="pw" d="M523.9 1083 Q524.5 1079.5 531.7 1077.2 L537 1078.2 L548.3 1082.8 L548.3 1095 L538.3 1097.2 L531.1 1101.7 L523.9 1091.7 Z" stroke-width="2.1"/>
<path d="M531.7 1085 L531.3 1100.5" stroke="#111" stroke-width="2.6" stroke-linecap="round"/>
<path class="t" d="M524.5 1083 L531.7 1085 L537.5 1078.8 M527 1080 L531.7 1085 M531.7 1085 L538 1087.5 L548 1085" stroke-width="1.4"/>
<path d="M541.5 1086.2 L536 1087.6 L536.2 1094.8 L542 1093.8 M544.5 1084.5 L544.8 1096" stroke="#111" stroke-width="2.1" fill="none" stroke-linecap="round" stroke-linejoin="round"/>
<path class="t" d="M538 1091 L541.5 1090.4" stroke-width="1.3"/>
</g>
<g id="p452">
<path class="pw" d="M621.3 1069.3 L638.1 1065.9 L638.7 1092 L621.9 1096.8 Z" stroke-width="2.2"/>
<circle class="t" cx="629.9" cy="1074.7" r="1.6" stroke-width="1.3"/><circle class="t" cx="629.9" cy="1085.3" r="1.6" stroke-width="1.3"/>
</g>
<g id="p451">
<path class="pw" d="M653.3 1086.5 L656.5 1083.5 L669.3 1081.3 L670.7 1110.7 L656.5 1114 L654.1 1112.5 Z" stroke-width="2.3"/>
<path class="t" d="M656.5 1083.8 L657.3 1113.8" stroke-width="1.3"/>
<circle class="k" cx="662.1" cy="1096.8" r="1.5"/><circle class="k" cx="662.7" cy="1106.7" r="1.5"/>
<path class="pw" d="M660 1087 Q668 1093.5 678 1091 Q683 1088 681.5 1083.5 L676 1080 Z" stroke-width="1.6"/>
<ellipse cx="675.5" cy="1083.5" rx="4.6" ry="5.6" fill="#111"/>
<path d="M668 1081.5 L674 1086.5" stroke="#111" stroke-width="3"/>
<circle cx="676.5" cy="1082" r="1.3" fill="#fff"/>
</g>
<g id="p552">
<path d="M688.5 1110.8 L697.5 1116.5" stroke="#111" stroke-width="3.2" stroke-linecap="round"/>
<circle class="pw" cx="699.6" cy="1118" r="3.8" stroke-width="1.4"/><path class="t" d="M698 1116.5 L701.2 1119.5 M701.2 1116.5 L698 1119.5" stroke-width="0.9"/>
</g>

<!-- ===== 810 coil / 812 hoses ===== -->
<g id="p812a">
<path d="M927.3 617.5 Q921 633 919.5 651" stroke="#111" stroke-width="4.4" fill="none" stroke-linecap="round"/>
<path d="M927.3 617.8 Q921 633 919.5 651" stroke="#fff" stroke-width="1.8" fill="none" stroke-linecap="round"/>
<path class="pw" d="M914.3 652.5 L922.5 651 L924.5 658 L916.5 660 Z" stroke-width="1.7"/>
<path class="t" d="M918 652 L920 659" stroke-width="1.1"/>
</g>
<g id="p812b">
<path d="M754 686 Q747 705 740.5 722.5" stroke="#111" stroke-width="4.2" fill="none" stroke-linecap="round"/>
<path d="M754 686 Q747 705 740.8 721.8" stroke="#fff" stroke-width="1.7" fill="none" stroke-linecap="round"/>
<path class="pw" d="M749.5 680 L755 677.8 L760.5 680 L760 685.5 L754.5 688 L749.5 685.5 Z" stroke-width="1.7"/>
<path class="t" d="M749.5 680 L755 682.5 L760.5 680 M755 682.5 L754.5 688" stroke-width="1.1"/>
</g>
<g id="p810">
<path d="M839.7 684.5 C844.7 683.3 861.3 679.6 869.6 677.8 C877.9 676.0 884.7 674.1 889.5 673.5 C894.2 672.9 895.2 672.9 898.0 674.2 C900.8 675.5 904.2 678.1 906.5 681.3 C908.9 684.5 911.3 691.4 912.2 693.4" stroke="#111" stroke-width="2.2" fill="none" stroke-linecap="round"/>
<path d="M846.8 689.4 L880.9 682.8" stroke="#111" stroke-width="1.8" fill="none" stroke-linecap="round"/>
<path class="pw" d="M819.8 687.3 L819.8 677.4 L821.9 675.9 L839.0 675.9 L839.0 684.5" stroke-width="2"/>
<path class="t" d="M822.3 676.8 L822.3 686.7" stroke-width="1.3"/>
<circle class="t" cx="830.4" cy="682.0" r="1.5" stroke-width="1.2"/>
<path d="M805.6 693.0 C803.9 693.2 798.9 693.8 795.6 694.1 C792.3 694.4 788.0 694.0 785.6 694.8 C783.3 695.7 782.4 697.1 781.4 699.1 C780.4 701.1 780.0 701.6 779.7 706.9 C779.3 712.3 779.4 722.3 779.4 731.1 C779.4 739.9 779.2 752.9 779.7 759.6 C780.1 766.2 780.6 767.6 782.1 770.9 C783.6 774.3 786.0 777.1 788.5 779.5 C791.0 781.8 794.3 783.9 797.0 785.2 C799.7 786.4 802.2 786.9 804.8 786.9 C807.5 786.9 810.1 786.3 812.7 785.2 C815.3 784.0 818.1 782.3 820.5 780.2 C822.9 778.0 825.2 775.1 826.9 772.4 C828.5 769.6 829.5 766.2 830.4 763.8 C831.4 761.5 832.2 759.1 832.6 758.1" stroke="#111" stroke-width="2.4" fill="none" stroke-linecap="round"/>
<path d="M832.6 758.1 C833.1 759.3 834.0 762.6 835.4 765.2 C836.8 767.9 838.9 771.4 841.1 773.8 C843.4 776.1 846.1 778.2 848.9 779.5 C851.8 780.8 855.0 781.6 858.2 781.6 C861.4 781.6 865.1 780.8 868.1 779.5 C871.2 778.2 874.2 776.1 876.7 773.8 C879.2 771.4 881.5 768.3 883.1 765.2 C884.7 762.2 885.7 761.0 886.3 755.3 C887.0 749.6 886.8 739.9 886.9 731.1 C887.0 722.3 886.9 709.8 886.9 702.7 C886.9 695.6 886.6 691.8 886.9 688.4 C887.2 685.1 887.6 683.9 888.8 682.8 C889.9 681.6 891.7 681.0 893.7 681.3 C895.7 681.7 898.9 682.6 900.8 684.9 C902.7 687.1 904.4 693.2 905.1 694.8" stroke="#111" stroke-width="2.4" fill="none" stroke-linecap="round"/>
<path d="M811.2 759.6 C811.1 756.2 810.8 746.8 810.5 739.6 C810.3 732.5 809.5 723.3 809.8 716.9 C810.2 710.5 811.0 705.5 812.7 701.2 C814.3 697.0 816.5 693.5 819.8 691.3 C823.1 689.0 828.3 687.9 832.6 687.7 C836.8 687.6 841.9 688.6 845.4 690.6 C848.8 692.6 851.4 695.4 853.2 699.8 C855.0 704.2 855.4 711.2 856.0 716.9 C856.7 722.6 857.3 729.0 857.3 734.0 C857.4 738.9 856.6 744.6 856.5 746.8" stroke="#111" stroke-width="2.3" fill="none" stroke-linecap="round"/>
<path d="M808.1 731.8 C807.7 733.1 806.6 736.4 805.8 739.6 C805.0 742.8 803.9 747.9 803.3 751.0 C802.6 754.1 801.7 756.3 802.0 758.1 C802.3 759.9 803.7 761.3 804.8 761.8 C806.0 762.4 808.0 761.9 809.1 761.4 C810.2 760.9 810.9 759.4 811.2 759.0" stroke="#111" stroke-width="2.2" fill="none" stroke-linecap="round"/>
<path d="M862.7 691.6 C862.3 693.8 861.7 699.4 861.0 705.5 C860.3 711.6 859.3 721.2 858.5 728.3 C857.6 735.4 856.3 744.0 855.8 748.2 C855.2 752.3 855.1 751.9 855.3 753.2 C855.5 754.4 856.1 755.0 857.0 755.6 C858.0 756.1 859.8 756.7 861.0 756.4 C862.2 756.1 863.5 755.7 864.2 753.9 C864.8 752.0 865.0 750.3 864.9 745.3 C864.7 740.4 863.7 731.1 863.4 724.0 C863.2 716.9 863.2 708.0 863.2 702.7 C863.2 697.3 863.5 693.8 863.4 692.0 C863.4 690.2 863.1 689.3 862.7 691.6 Z" stroke="#111" stroke-width="2.1" fill="none"/>
<path d="M827.6 712.6 C827.8 710.1 828.7 709.8 829.7 709.1 C830.8 708.3 832.6 708.0 834.0 708.1 C835.4 708.2 837.2 708.8 838.0 709.8 C838.8 710.8 839.2 711.4 839.0 714.0 C838.8 716.7 837.6 721.6 836.8 725.4 C836.1 729.2 834.9 732.5 834.3 736.8 C833.7 741.1 833.6 747.5 833.3 751.0 C833.0 754.6 832.8 758.1 832.6 758.1 C832.4 758.1 832.3 754.6 832.0 751.0 C831.7 747.5 831.4 741.3 830.9 736.8 C830.3 732.3 829.1 728.0 828.6 724.0 C828.1 720.0 827.4 715.1 827.6 712.6 Z" stroke="#111" stroke-width="2" fill="none"/>
<path d="M787.8 706.9 C787.7 711.0 787.4 722.3 787.4 731.1 C787.4 739.9 787.1 752.9 787.8 759.6 C788.4 766.2 789.6 767.9 791.3 770.9 C793.1 774.0 796.1 776.5 798.4 778.0 C800.8 779.6 802.9 780.4 805.6 780.2 C808.2 779.9 811.5 778.6 814.1 776.6 C816.7 774.6 819.4 770.9 821.2 768.1 C823.0 765.2 824.2 761.0 824.8 759.6" stroke="#333" stroke-width="1.1" fill="none" stroke-linecap="round"/>
<path d="M793.5 745.3 C793.7 748.2 793.7 758.4 794.9 762.4 C796.1 766.4 798.3 768.3 800.6 769.5 C802.8 770.7 805.7 770.5 808.4 769.5 C811.1 768.6 814.9 766.4 816.9 763.8 C818.9 761.2 819.9 755.5 820.5 753.9" stroke="#333" stroke-width="1.1" fill="none" stroke-linecap="round"/>
<path d="M841.1 759.6 C841.6 761.0 842.3 765.7 844.0 768.1 C845.6 770.5 848.6 772.6 851.1 773.8 C853.6 775.0 856.0 775.4 858.9 775.2 C861.7 775.0 865.4 774.0 868.1 772.4 C870.9 770.7 873.5 767.9 875.2 765.2 C877.0 762.6 878.1 762.4 878.8 756.7 C879.5 751.0 879.4 741.3 879.5 731.1 C879.6 720.9 879.5 701.5 879.5 695.6" stroke="#333" stroke-width="1.1" fill="none" stroke-linecap="round"/>
<path d="M849.6 758.1 C850.4 759.3 852.0 763.8 853.9 765.2 C855.8 766.7 858.4 767.4 861.0 767.0 C863.6 766.5 867.4 764.6 869.6 762.4 C871.7 760.2 873.0 760.3 873.8 753.9 C874.7 747.5 874.3 733.5 874.5 724.0 C874.8 714.5 875.1 701.5 875.2 697.0" stroke="#333" stroke-width="1.1" fill="none" stroke-linecap="round"/>
<path d="M816.9 745.3 C817.1 741.1 817.1 726.4 817.6 719.7 C818.2 713.1 818.9 709.1 820.5 705.5 C822.0 702.0 824.6 699.9 826.9 698.4 C829.1 696.9 831.4 696.1 834.0 696.3 C836.6 696.4 840.3 697.1 842.5 699.1 C844.8 701.1 846.3 704.2 847.5 708.4 C848.7 712.5 849.2 718.8 849.6 724.0 C850.1 729.2 850.2 737.0 850.4 739.6" stroke="#333" stroke-width="1.1" fill="none" stroke-linecap="round"/>
<path d="M822.6 739.6 C822.7 736.3 822.6 725.2 823.3 719.7 C824.0 714.3 825.3 709.7 826.9 706.9 C828.4 704.2 830.4 703.6 832.6 703.4 C834.7 703.1 837.8 703.7 839.7 705.5 C841.6 707.3 843.1 710.5 844.0 714.0 C844.8 717.6 844.5 724.7 844.7 726.8" stroke="#333" stroke-width="1.1" fill="none" stroke-linecap="round"/>
<path d="M869.6 702.7 C869.7 706.2 870.3 717.8 870.3 724.0 C870.3 730.2 869.7 737.0 869.6 739.6" stroke="#333" stroke-width="1.1" fill="none" stroke-linecap="round"/>
<path d="M787.8 708.1 L812.7 701.5 M788.2 711.8 L810.5 706.9" stroke="#111" stroke-width="2" fill="none" stroke-linecap="round"/>
<path d="M785.6 716.2 L807.3 713.8 M785.6 716.2 L800.6 729.7 L804.1 731.1 L803.3 739.6 M787.8 722.6 L797.0 734.7 L800.2 745.3 M787.1 726.8 L792.8 739.6 L795.6 751.0" stroke="#222" stroke-width="1.4" fill="none" stroke-linecap="round" stroke-linejoin="round"/>
<path d="M794.9 693.8 L804.1 692.1 L805.6 699.3 L796.5 701.0 Z" fill="#555" stroke="#111" stroke-width="1.6"/>
<path d="M797.7 694.1 L798.9 700.1 M800.6 693.6 L801.7 699.7" stroke="#fff" stroke-width="0.9" fill="none"/>
<path d="M805.6 695.8 L816.2 689.2" stroke="#111" stroke-width="2.4" fill="none" stroke-linecap="round"/>
<path d="M804.8 698.7 L816.9 691.6" stroke="#111" stroke-width="1.3" fill="none" stroke-linecap="round"/>
<path d="M904.4 694.8 L915.1 693.0 L916.5 701.5 L905.8 703.5 Z" fill="#666" stroke="#111" stroke-width="1.8"/>
<path d="M905.1 697.7 L915.6 695.8 M905.5 700.5 L916.1 698.7" stroke="#fff" stroke-width="0.9" fill="none"/>
<path d="M915.1 702.7 C915.4 706.2 916.3 715.7 917.2 724.0 C918.1 732.3 919.9 747.7 920.5 752.4" stroke="#111" stroke-width="2" fill="none" stroke-linecap="round"/>
<path d="M907.2 704.1 C907.7 708.6 908.8 722.7 910.1 731.1 C911.4 739.5 914.2 750.7 915.1 754.6" stroke="#111" stroke-width="2" fill="none" stroke-linecap="round"/>
<ellipse cx="917.9" cy="753.9" rx="2.9" ry="1.8" transform="rotate(-15 917.9 753.9)" fill="#444" stroke="#111" stroke-width="1.2"/>
<path class="pw" d="M800.6 786.3 L800.6 792.6 L809.8 792.6 L809.8 785.7" stroke-width="2"/>
<path class="pw" d="M853.9 780.9 L853.9 787.3 L863.2 787.3 L863.2 780.3" stroke-width="2"/>
</g>

<!-- PARTS_PLACEHOLDER -->

<!-- ===== LEADERS ===== -->
<g id="leaders" class="ld">
<path d="M511 53.5 L540.5 71.5"/>
<path d="M588.5 50.5 L573.5 46"/>
<path d="M587.5 113.5 L555 126"/>
<path d="M511 125 L541.5 156.5"/>
<path d="M514.5 170 L539 185"/>
<path d="M488.5 221.5 L504.5 263.5 L514.5 250.5"/>
<path d="M660 221.5 L641.5 231.5"/>
<path d="M670 273.5 L646.5 292.5"/>
<path d="M411.5 286 L443.5 290"/>
<path d="M866.5 62.5 L851 80"/>
<path d="M957.5 109.5 L942.5 134"/>
<path d="M1037.5 176 L1029.5 206.5"/>
<path d="M784.5 161 L805 172.5"/>
<path d="M865 293.5 L844.5 315"/>
<path d="M913.5 275 L899 297.5"/>
<path d="M1005.5 348.5 L995 321.5"/>
<path d="M852.5 380 L843.5 357.5"/>
<path d="M303.5 331.5 L314 355"/>
<path d="M443.5 365 L418.5 376.5"/>
<path d="M445.7 431.5 L445.7 453.5"/>
<path d="M385 466 L393.5 490.5"/>
<path d="M516.5 465 L528.5 495"/>
<path d="M536 567.5 L565 576"/>
<path d="M311 611.5 L355 593.5"/>
<path d="M367.5 626.5 L399.5 617.5"/>
<path d="M270 471.5 L298.5 451.5"/>
<path d="M202 337 L196.5 361.5"/>
<path d="M124.5 362 L136.5 386"/>
<path d="M70.5 476 L80.5 447.5"/>
<path d="M112 568.5 L125.5 533 M112 568.5 L149.5 528 M112 568.5 L143 562.5"/>
<path d="M649.5 390.5 L636 397.5"/>
<path d="M731.5 446.5 L700.5 437.5"/>
<path d="M676 486 L650 474"/>
<path d="M805 426 L780.5 410"/>
<path d="M649 608.5 L637.5 640"/>
<path d="M877.5 609.5 L916.5 623.5"/>
<path d="M726 741.5 L726 710.5 L749.5 686.5" stroke-width="1.2"/>
<path d="M763 803.5 L783.5 782.5" stroke-width="1.2"/>
<path d="M321.5 843.5 L329.5 910" stroke-width="1.2"/>
<path d="M271.5 906 L283.5 922.5"/>
<path d="M451.5 770 L436 789.5"/>
<path d="M399.5 880.5 L393.5 865 L421.5 874"/>
<path d="M456.5 983.5 L454 1008.5"/>
<path d="M503.5 799.5 L493.5 815"/>
<path d="M446.5 1123.5 L432.5 1136.5"/>
<path d="M665 1057.5 L642.5 1066"/>
<path d="M690 1082.5 L685 1084"/>
<path d="M538.5 1100 L549 1118.5"/>
<path d="M685.5 1119.5 L663.5 1146.5" stroke-width="1.2"/>
</g>

<!-- ===== LABELS ===== -->
<g id="labels" class="lb">
<text x="492.5" y="60" textLength="27" lengthAdjust="spacingAndGlyphs">447</text>
<text x="605.5" y="59.5" textLength="27" lengthAdjust="spacingAndGlyphs">578</text>
<text x="605" y="117.5" textLength="27" lengthAdjust="spacingAndGlyphs">560</text>
<text x="490.5" y="135" textLength="27" lengthAdjust="spacingAndGlyphs">448</text>
<text x="496.5" y="176" textLength="27" lengthAdjust="spacingAndGlyphs">450</text>
<text x="484" y="217.5" textLength="27" lengthAdjust="spacingAndGlyphs">455</text>
<text x="675" y="226" textLength="27" lengthAdjust="spacingAndGlyphs">280</text>
<text x="686.5" y="273.5" textLength="27" lengthAdjust="spacingAndGlyphs">436</text>
<text x="390" y="293.5" textLength="27" lengthAdjust="spacingAndGlyphs">424</text>
<text x="873.5" y="56" textLength="27" lengthAdjust="spacingAndGlyphs">792</text>
<text x="959.5" y="104.5" textLength="27" lengthAdjust="spacingAndGlyphs">791</text>
<text x="1038.5" y="171.5" textLength="27" lengthAdjust="spacingAndGlyphs">423</text>
<text x="762.5" y="166.5" textLength="27" lengthAdjust="spacingAndGlyphs">790</text>
<text x="870" y="288.5" textLength="27" lengthAdjust="spacingAndGlyphs">425</text>
<text x="916.5" y="271" textLength="27" lengthAdjust="spacingAndGlyphs">425</text>
<text x="1003.5" y="368.5" textLength="27" lengthAdjust="spacingAndGlyphs">789</text>
<text x="850" y="399.5" textLength="27" lengthAdjust="spacingAndGlyphs">421</text>
<text x="200" y="333.5" textLength="27" lengthAdjust="spacingAndGlyphs">490</text>
<text x="121.5" y="358.5" textLength="27" lengthAdjust="spacingAndGlyphs">428</text>
<text x="296.5" y="328.5" textLength="27" lengthAdjust="spacingAndGlyphs">439</text>
<text x="59.5" y="495" textLength="27" lengthAdjust="spacingAndGlyphs">426</text>
<text x="91.5" y="588" textLength="27" lengthAdjust="spacingAndGlyphs">424</text>
<text x="250" y="488.5" textLength="27" lengthAdjust="spacingAndGlyphs">429</text>
<text x="289.5" y="620" textLength="27" lengthAdjust="spacingAndGlyphs">458</text>
<text x="416" y="622" textLength="27" lengthAdjust="spacingAndGlyphs">457</text>
<text x="458.5" y="368.5" textLength="27" lengthAdjust="spacingAndGlyphs">177</text>
<text x="442.5" y="472" textLength="27" lengthAdjust="spacingAndGlyphs">428</text>
<text x="394" y="511" textLength="27" lengthAdjust="spacingAndGlyphs">443</text>
<text x="526.5" y="514" textLength="27" lengthAdjust="spacingAndGlyphs">427</text>
<text x="515.5" y="573.5" textLength="27" lengthAdjust="spacingAndGlyphs">453</text>
<text x="665" y="395" textLength="27" lengthAdjust="spacingAndGlyphs">257</text>
<text x="747.5" y="458" textLength="27" lengthAdjust="spacingAndGlyphs">435</text>
<text x="690" y="497.5" textLength="27" lengthAdjust="spacingAndGlyphs">435</text>
<text x="813.5" y="442" textLength="27" lengthAdjust="spacingAndGlyphs">491</text>
<text x="649" y="604.5" textLength="27" lengthAdjust="spacingAndGlyphs">189</text>
<text x="860" y="617.5" textLength="27" lengthAdjust="spacingAndGlyphs">812</text>
<text x="725" y="762.5" textLength="27" lengthAdjust="spacingAndGlyphs">812</text>
<text x="755" y="824" textLength="27" lengthAdjust="spacingAndGlyphs">810</text>
<text x="465" y="766" textLength="27" lengthAdjust="spacingAndGlyphs">434</text>
<text x="488" y="832.5" textLength="27" lengthAdjust="spacingAndGlyphs">405</text>
<text x="320" y="839.5" textLength="27" lengthAdjust="spacingAndGlyphs">432</text>
<text x="255" y="913.5" textLength="27" lengthAdjust="spacingAndGlyphs">431</text>
<text x="383.5" y="861" textLength="27" lengthAdjust="spacingAndGlyphs">442</text>
<text x="452.5" y="974.5" textLength="27" lengthAdjust="spacingAndGlyphs">454</text>
<text x="423.5" y="1153.5" textLength="27" lengthAdjust="spacingAndGlyphs">609</text>
<text x="550" y="1136" textLength="27" lengthAdjust="spacingAndGlyphs">293</text>
<text x="681.5" y="1060" textLength="27" lengthAdjust="spacingAndGlyphs">452</text>
<text x="707.5" y="1088" textLength="27" lengthAdjust="spacingAndGlyphs">451</text>
<text x="659" y="1163.5" textLength="27" lengthAdjust="spacingAndGlyphs">552</text>
</g>
<text class="art" x="773.5" y="1152.6" textLength="169.5" lengthAdjust="spacingAndGlyphs">(ART NO. WR18562 C2)</text>
</svg>
</body>
</html>
